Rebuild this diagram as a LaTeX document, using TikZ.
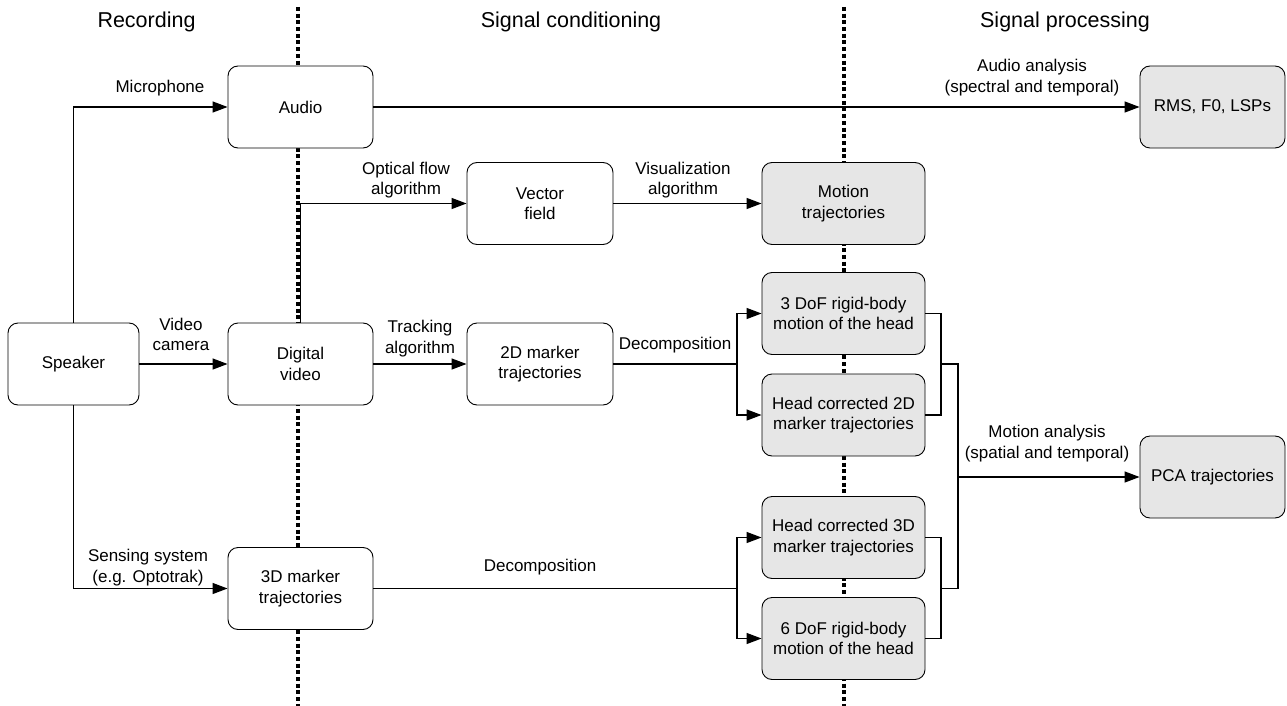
\documentclass[tikz,border=0pt]{standalone}
\usepackage{fontspec}
\setmainfont{Liberation Sans}
\usetikzlibrary{arrows.meta}
\definecolor{boxgray}{RGB}{230,230,230}
\begin{document}
\begin{tikzpicture}[x=1pt,y=-1pt,
  every node/.style={font=\fontsize{17}{20.5}\selectfont},
  box/.style={draw, line width=0.9pt, rounded corners=10pt, align=center, fill=white,
    minimum width=145pt, minimum height=82pt, inner sep=2pt},
  gbox/.style={box, fill=boxgray, minimum width=163pt},
  lbl/.style={align=center, inner sep=0pt},
  head/.style={inner sep=0pt, font=\fontsize{21.5}{26}\selectfont},
  conn/.style={line width=1.3pt},
  arr/.style={conn, -{Triangle[length=15pt,width=11pt]}},
  sep/.style={line width=3.2pt, dash pattern=on 4pt off 2.7pt}
]
\useasboundingbox (0,0) rectangle (1287,706);

% phase separators
\coordinate (d1t) at (298,7);
\coordinate (d1b) at (298,706);
\coordinate (d2t) at (844,7);
\coordinate (d2b) at (844,706);
\draw[sep] (d1t) -- (d1b);
\draw[sep] (d2t) -- (d2b);

% headings
\node[head] (hrec) at (146.5,22) {Recording};
\node[head] (hcond) at (571,22) {Signal conditioning};
\node[head] (hproc) at (1065,22) {Signal processing};

% boxes
\node[box, minimum width=131pt] (spk) at (73.5,364) {Speaker};
\node[box] (audio) at (300.5,107) {Audio};
\node[box] (dv) at (300.5,364) {Digital\\video};
\node[box] (m3d) at (300.5,588.5) {3D marker\\trajectories};
\node[box, minimum width=146pt] (vf) at (540,203.5) {Vector\\field};
\node[box, minimum width=146pt] (m2d) at (540,364) {2D marker\\trajectories};
\node[gbox] (mt) at (843.5,203.5) {Motion\\trajectories};
\node[gbox] (dof3) at (843.5,313.5) {3 DoF rigid-body\\motion of the head};
\node[gbox] (hc2) at (843.5,415) {Head corrected 2D\\marker trajectories};
\node[gbox] (hc3) at (843.5,537.5) {Head corrected 3D\\marker trajectories};
\node[gbox] (dof6) at (843.5,638.5) {6 DoF rigid-body\\motion of the head};
\node[box, fill=boxgray] (rms) at (1212.5,107) {RMS, F0, LSPs};
\node[box, fill=boxgray] (pca) at (1212.5,477) {PCA trajectories};

% connectors from speaker
\draw[arr] (spk.north) |- (audio.west);
\draw[arr] (spk.east) -- (dv.west);
\draw[arr] (spk.south) |- (m3d.west);
\node[lbl] (lmic) at (160,88) {Microphone};
\node[lbl] (lcam) at (181,334.5) {Video\\camera};
\node[lbl] (lsens) at (148,567.5) {Sensing system\\(e.g. Optotrak)};

% audio
\draw[arr] (audio.east) -- (rms.west);
\node[lbl] (laud) at (1032,77.5) {Audio analysis\\(spectral and temporal)};

% video
\draw[arr] (dv.north) |- (vf.west);
\node[lbl] (lopt) at (406,180) {Optical flow\\algorithm};
\draw[arr] (vf.east) -- (mt.west);
\node[lbl] (lvis) at (683,180) {Visualization\\algorithm};
\draw[arr] (dv.east) -- (m2d.west);
\node[lbl] (ltrk) at (420,338.5) {Tracking\\algorithm};

% 2D decomposition
\coordinate (b2) at (737,364);
\draw[conn] (m2d.east) -- (b2);
\draw[arr] (b2) |- (dof3.west);
\draw[arr] (b2) |- (hc2.west);
\node[lbl] (ldec2) at (675,345) {Decomposition};

% 3D decomposition
\coordinate (b3) at (737,588.5);
\draw[conn] (m3d.east) -- (b3);
\draw[arr] (b3) |- (hc3.west);
\draw[arr] (b3) |- (dof6.west);
\node[lbl] (ldec3) at (540,567) {Decomposition};

% merge into PCA
\coordinate (j1) at (941,364);
\coordinate (j2) at (941,588.5);
\coordinate (j3) at (958,364);
\coordinate (j4) at (958,588.5);
\draw[conn] (dof3.east) -| (j1) |- (hc2.east);
\draw[conn] (hc3.east) -| (j2) |- (dof6.east);
\draw[conn] (j1) -- (j3) -- (j4) -- (j2);
\draw[arr] (j3) |- (pca.west);
\node[lbl] (lmot) at (1047,443.5) {Motion analysis\\(spatial and temporal)};
\end{tikzpicture}
\end{document}
